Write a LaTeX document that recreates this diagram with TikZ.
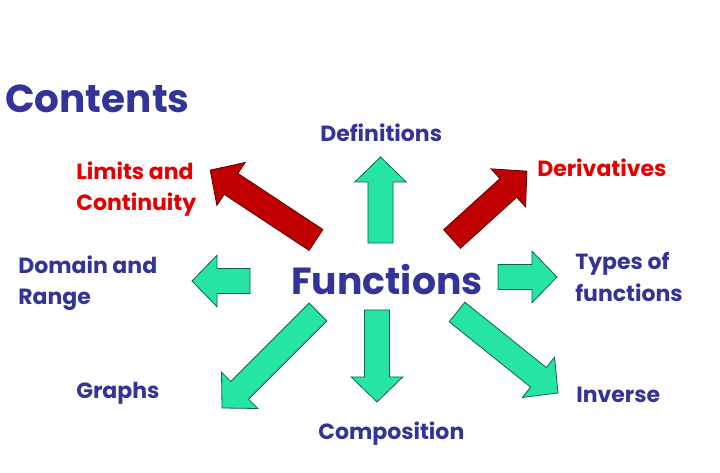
\documentclass[tikz,border=0pt]{standalone}
\usepackage{fontspec}
\setmainfont{Poppins}
\usetikzlibrary{calc}
\definecolor{txtblue}{RGB}{51,51,153}
\definecolor{txtred}{RGB}{228,0,0}
\definecolor{arrred}{RGB}{192,0,0}
\definecolor{arrredline}{RGB}{90,0,0}
\definecolor{arrgreen}{RGB}{38,228,164}
\definecolor{arrgreenline}{RGB}{15,100,70}
\tikzset{
  greenarrow/.style={fill=arrgreen,draw=arrgreenline,line width=0.6pt,line join=miter},
  redarrow/.style={fill=arrred,draw=arrredline,line width=0.6pt,line join=miter},
  lbl/.style={font=\fontsize{16.5}{23.5}\selectfont\bfseries,inner sep=0pt,align=left,anchor=west},
  bluelbl/.style={lbl,text=txtblue},
  redlbl/.style={lbl,text=txtred},
  title/.style={inner sep=0pt,text=txtblue}
}
\newcommand\fatarrow[3]{%
  \path[#1] let \p1=($(#3)-(#2)$), \n1={veclen(\x1,\y1)}, \n2={atan2(\y1,\x1)} in
    [shift={(#2)},rotate=\n2]
    (0pt,-9.4pt) -- ({\n1-18.75pt},-9.4pt) -- ({\n1-18.75pt},-19.3pt) -- (\n1,0pt)
    -- ({\n1-18.75pt},19.3pt) -- ({\n1-18.75pt},9.4pt) -- (0pt,9.4pt) -- cycle;}
\begin{document}
\begin{tikzpicture}[x=0.75pt,y=-0.75pt]
\useasboundingbox (0,0) rectangle (720,473);
% arrow end points
\coordinate (defT) at (380.5,243); \coordinate (defP) at (380.5,157);
\coordinate (comT) at (377,310);   \coordinate (comP) at (377,402);
\coordinate (domT) at (250,281);   \coordinate (domP) at (192,281);
\coordinate (typT) at (498,277);   \coordinate (typP) at (557,277);
\coordinate (limT) at (316,240);   \coordinate (limP) at (210,170);
\coordinate (derT) at (452,239);   \coordinate (derP) at (527,171);
\coordinate (graT) at (318,312);   \coordinate (graP) at (222,408);
\coordinate (invT) at (457,312);   \coordinate (invP) at (558,393);
\fatarrow{greenarrow}{defT}{defP}
\fatarrow{greenarrow}{comT}{comP}
\fatarrow{greenarrow}{domT}{domP}
\fatarrow{greenarrow}{typT}{typP}
\fatarrow{redarrow}{limT}{limP}
\fatarrow{redarrow}{derT}{derP}
\fatarrow{greenarrow}{graT}{graP}
\fatarrow{greenarrow}{invT}{invP}
% texts
\node[title,anchor=base west,font=\fontsize{29.2}{35}\selectfont\bfseries] (contents) at (5,113) {Contents};
\node[title,anchor=base west,font=\fontsize{28.3}{35}\selectfont\bfseries] (functions) at (291,295) {Functions};
\node[bluelbl] (def) at (320,133) {Definitions};
\node[redlbl] (lim) at (76,189) {Limits and\\Continuity};
\node[redlbl] (der) at (537,168) {Derivatives};
\node[bluelbl] (dom) at (18,283) {Domain and\\Range};
\node[bluelbl] (typ) at (575,277) {Types of\\functions};
\node[bluelbl] (gra) at (76,393) {Graphs};
\node[bluelbl] (com) at (318,434) {Composition};
\node[bluelbl] (inv) at (576,395) {Inverse};
\end{tikzpicture}
\end{document}
